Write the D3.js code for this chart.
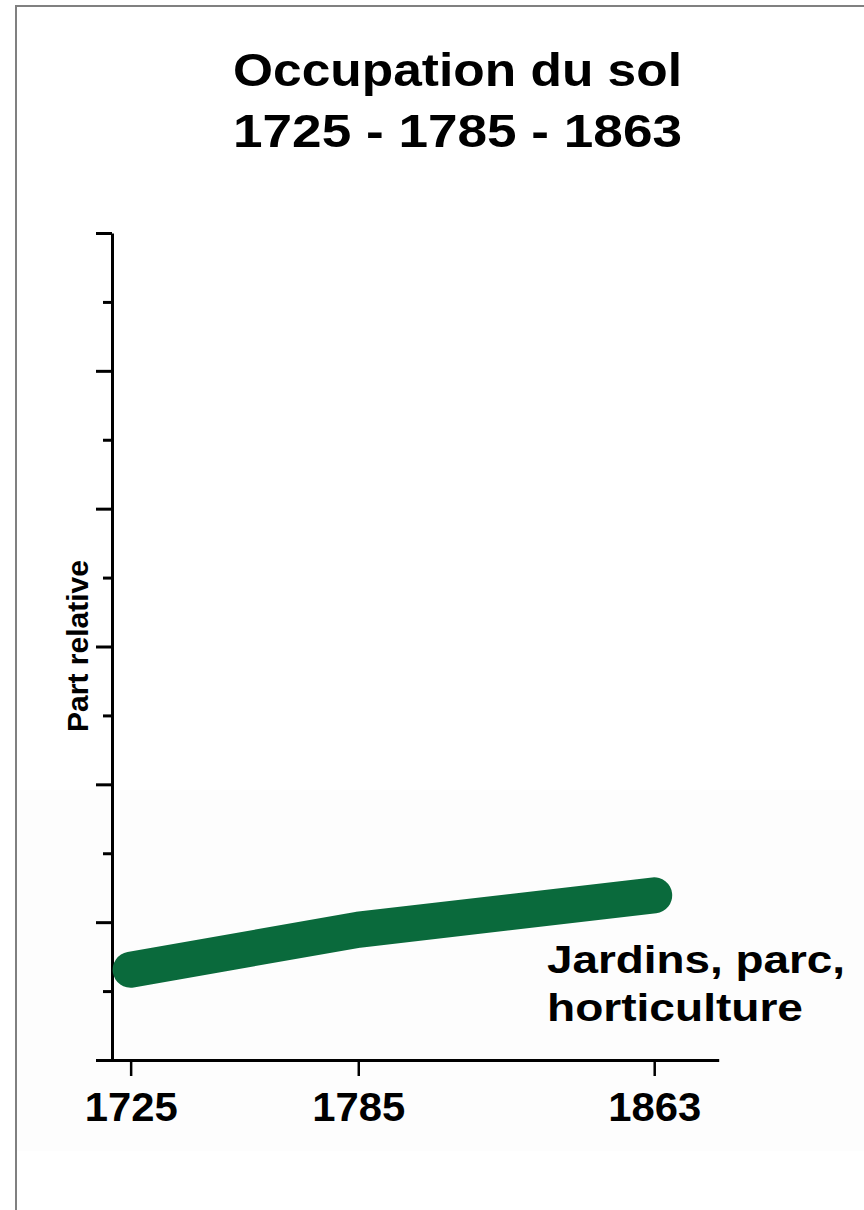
<!DOCTYPE html>
<html>
<head>
<meta charset="utf-8">
<script src="https://cdn.jsdelivr.net/npm/d3@7/dist/d3.min.js"></script>
<style>
  html, body { margin: 0; padding: 0; background: #ffffff; }
  svg { display: block; }
  text { font-family: "Liberation Sans", Arial, Helvetica, sans-serif; fill: #000; }
</style>
</head>
<body>
<svg id="chart" width="864" height="1210"></svg>
<script>
// ---- data ----
const titleLines = ["Occupation du sol", "1725 - 1785 - 1863"];
const years = [1725, 1785, 1863];
const jardins = [1.31, 1.89, 2.39];          // part relative (unités d'axe)
const xTickLabels = ["1725", "1785", "1863"];
const yMajorTicks = [0, 2, 4, 6, 8, 10, 12];
const yMinorTicks = [1, 3, 5, 7, 9, 11];
const seriesLabel = ["Jardins, parc,", "horticulture"];
const yAxisTitle = "Part relative";

// ---- drawing ----
const svg = d3.select("#chart");

// frame
svg.append("rect")
  .attr("x", 16).attr("y", 6)
  .attr("width", 900).attr("height", 1260)
  .attr("fill", "none").attr("stroke", "#808080").attr("stroke-width", 2);

// faint pasted-image background
svg.append("rect")
  .attr("x", 17).attr("y", 790)
  .attr("width", 847).attr("height", 361)
  .attr("fill", "#fdfdfd");

// title
const titleG = svg.append("g");
titleG.selectAll("text").data(titleLines).join("text")
  .attr("x", 457.5)
  .attr("y", (d, i) => i === 0 ? 86 : 147)
  .attr("text-anchor", "middle")
  .attr("font-weight", "bold")
  .attr("font-size", 47)
  .attr("textLength", 449)
  .attr("lengthAdjust", "spacingAndGlyphs")
  .text(d => d);

// scales
const x = d3.scaleLinear().domain([1716, 1880]).range([96.5, 718.7]);
const y = d3.scaleLinear().domain([0, 12]).range([1060, 233]);

// y axis: major ticks
svg.append("g")
  .attr("transform", "translate(112,0)")
  .call(d3.axisLeft(y).tickValues(yMajorTicks).tickSize(16).tickFormat("").tickSizeOuter(0))
  .call(g => g.select(".domain").attr("stroke-width", 3).attr("stroke", "#000"))
  .call(g => g.selectAll(".tick line").attr("stroke-width", 3).attr("stroke", "#000"));

// y axis: minor ticks
svg.append("g")
  .attr("transform", "translate(112,0)")
  .call(d3.axisLeft(y).tickValues(yMinorTicks).tickSize(9).tickFormat("").tickSizeOuter(0))
  .call(g => g.select(".domain").remove())
  .call(g => g.selectAll(".tick line").attr("stroke-width", 3).attr("stroke", "#000"));

// x axis
svg.append("g")
  .attr("transform", "translate(0,1060)")
  .call(d3.axisBottom(x).tickValues(years).tickSize(16).tickSizeOuter(0)
        .tickFormat((d, i) => xTickLabels[i]).tickPadding(16))
  .call(g => g.select(".domain").attr("stroke-width", 3).attr("stroke", "#000"))
  .call(g => g.selectAll(".tick line").attr("stroke-width", 2.5).attr("stroke", "#000"))
  .call(g => g.selectAll(".tick text")
      .attr("font-family", "'Liberation Sans', Arial, sans-serif")
      .attr("font-size", 40)
      .attr("font-weight", "bold")
      .attr("fill", "#111")
      .attr("dy", null)
      .attr("y", 61)
      .attr("textLength", 93)
      .attr("lengthAdjust", "spacingAndGlyphs"));

// y axis title
svg.append("text")
  .attr("transform", "translate(88,646) rotate(-90)")
  .attr("text-anchor", "middle")
  .attr("font-weight", "bold")
  .attr("font-size", 30)
  .text(yAxisTitle);

// series line
const line = d3.line()
  .x((d, i) => x(years[i]))
  .y(d => y(d));

svg.append("path")
  .datum(jardins)
  .attr("d", line)
  .attr("fill", "none")
  .attr("stroke", "#0a6a3c")
  .attr("stroke-width", 36)
  .attr("stroke-linecap", "round")
  .attr("stroke-linejoin", "round");

// series label
svg.append("g").selectAll("text").data(seriesLabel).join("text")
  .attr("x", 547)
  .attr("y", (d, i) => i === 0 ? 973 : 1021)
  .attr("font-weight", "bold")
  .attr("font-size", 38)
  .attr("fill", "#111")
  .attr("textLength", (d, i) => i === 0 ? 298 : 256)
  .attr("lengthAdjust", "spacingAndGlyphs")
  .text(d => d);
</script>
</body>
</html>
